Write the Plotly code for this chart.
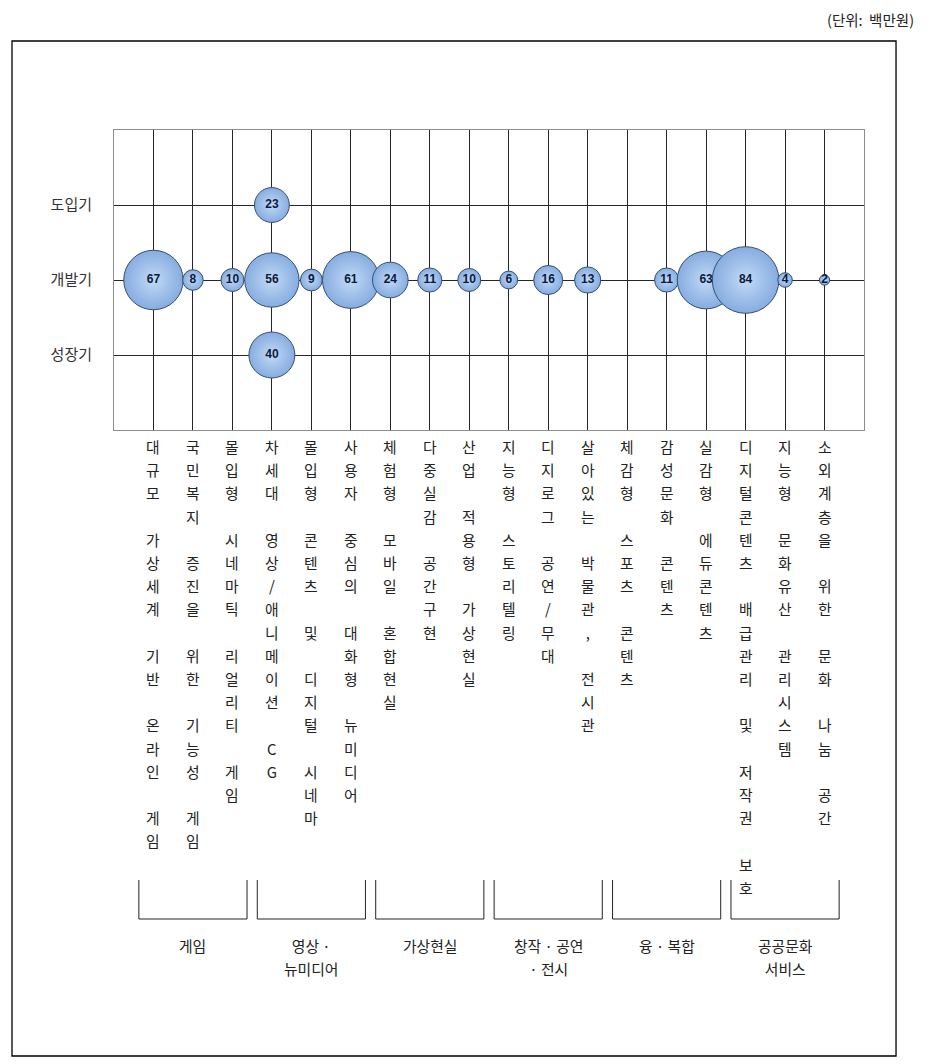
import plotly.graph_objects as go

# ---------------- data ----------------
categories = [
    "대규모 가상세계 기반 온라인 게임",
    "국민복지 증진을 위한 기능성 게임",
    "몰입형 시네마틱 리얼리티 게임",
    "차세대 영상/애니메이션 CG",
    "몰입형 콘텐츠 및 디지털 시네마",
    "사용자 중심의 대화형 뉴미디어",
    "체험형 모바일 혼합현실",
    "다중실감 공간구현",
    "산업 적용형 가상현실",
    "지능형 스토리텔링",
    "디지로그 공연/무대",
    "살아있는 박물관, 전시관",
    "체감형 스포츠 콘텐츠",
    "감성문화 콘텐츠",
    "실감형 에듀콘텐츠",
    "디지털콘텐츠 배급관리 및 저작권 보호",
    "지능형 문화유산 관리시스템",
    "소외계층을 위한 문화 나눔 공간",
]
stage_labels = ["성장기", "개발기", "도입기"]
intro_values = [None, None, None, 23, None, None, None, None, None,
                None, None, None, None, None, None, None, None, None]
dev_values = [67, 8, 10, 56, 9, 61, 24, 11, 10,
              6, 16, 13, None, 11, 63, 84, 4, 2]
growth_values = [None, None, None, 40, None, None, None, None, None,
                 None, None, None, None, None, None, None, None, None]
groups = ["게임", "영상 ·<br>뉴미디어", "가상현실", "창작 · 공연<br>· 전시",
          "융 · 복합", "공공문화<br>서비스"]
group_size = 3
unit_label = "(단위:  백만원)"

# ---------------- build points ----------------
xs, ys, vs = [], [], []
for i in range(len(categories)):
    for stage_idx, series in ((3, intro_values), (2, dev_values), (1, growth_values)):
        v = series[i]
        if v is not None:
            xs.append(i + 1)
            ys.append(stage_idx)
            vs.append(v)

KFONT = "Noto Sans CJK KR"

fig = go.Figure()
fig.add_trace(go.Scatter(
    x=xs, y=ys, mode="markers+text",
    text=[str(v) for v in vs],
    texttemplate="<b>%{text}</b>",
    textposition="middle center",
    textfont=dict(family="Liberation Sans, Arial", size=12, color="#0b1a3c"),
    marker=dict(
        size=vs, sizemode="area", sizeref=2 / (7.27 ** 2),
        color="#86ace0",
        gradient=dict(type="radial", color="#c2daf6"),
        line=dict(color="#34506f", width=1),
        opacity=1,
    ),
    hoverinfo="skip",
    cliponaxis=False,
    showlegend=False,
))

fig.update_xaxes(
    range=[0, len(categories) + 1],
    tickvals=list(range(1, len(categories) + 1)),
    showticklabels=False, ticks="",
    showgrid=True, gridcolor="#262626", gridwidth=1,
    zeroline=False,
    showline=True, linecolor="#8c8c8c", linewidth=1, mirror=True,
    fixedrange=True,
)
fig.update_yaxes(
    range=[0, 4],
    tickvals=[1, 2, 3], ticktext=stage_labels,
    tickfont=dict(family=KFONT, size=15, color="#333333"),
    ticks="", ticklabelstandoff=18,
    showgrid=True, gridcolor="#262626", gridwidth=1,
    zeroline=False,
    showline=True, linecolor="#8c8c8c", linewidth=1, mirror=True,
    fixedrange=True,
)

annotations = []
# vertical category labels (one character per line)
BASE = 17.85   # controls line spacing (1.3 * BASE px)
CH = 14.8      # glyph size
for i, label in enumerate(categories):
    lines = []
    for ch in label:
        if ch == " ":
            lines.append("\u00a0")
        else:
            lines.append(f'<span style="font-size:{CH}px">{ch}</span>')
    annotations.append(dict(
        x=i + 1, xref="x", y=-0.012, yref="paper",
        text="<br>".join(lines), showarrow=False,
        xanchor="center", yanchor="top", align="center",
        font=dict(family=KFONT, size=BASE, color="#222222"),
    ))

shapes = []
for g, name in enumerate(groups):
    start = g * group_size + 1
    end = start + group_size - 1
    x0, x1 = start - 0.37, end + 0.37
    y_top, y_bot = -1.5, -1.63
    shapes.append(dict(
        type="path", xref="x", yref="paper",
        path=f"M {x0},{y_top} L {x0},{y_bot} L {x1},{y_bot} L {x1},{y_top}",
        line=dict(color="#222222", width=1),
    ))
    annotations.append(dict(
        x=(start + end) / 2, xref="x", y=-1.675, yref="paper",
        text=name, showarrow=False, xanchor="center", yanchor="top",
        align="center",
        font=dict(family=KFONT, size=BASE, color="#222222"),
    ))
# make group label glyphs smaller, keeping line spacing
for a in annotations[len(categories):]:
    a["text"] = "<br>".join(f'<span style="font-size:{CH}px">{t}</span>'
                            for t in a["text"].split("<br>"))

# outer frame
shapes.append(dict(
    type="rect", xref="paper", yref="paper",
    x0=-0.136, x1=1.0427, y0=-2.0867, y1=1.2967,
    line=dict(color="#000000", width=1.3), layer="below",
))

annotations.append(dict(
    x=1.0693, xref="paper", y=1.3667, yref="paper",
    text=unit_label, showarrow=False, xanchor="right", yanchor="middle",
    font=dict(family=KFONT, size=14.5, color="#222222"),
))

fig.update_layout(
    width=930, height=1064, autosize=False,
    margin=dict(l=114, r=66, t=130, b=634),
    paper_bgcolor="white", plot_bgcolor="white",
    annotations=annotations, shapes=shapes,
    hovermode=False,
)

fig.write_html("out.html", config={"displayModeBar": False})
